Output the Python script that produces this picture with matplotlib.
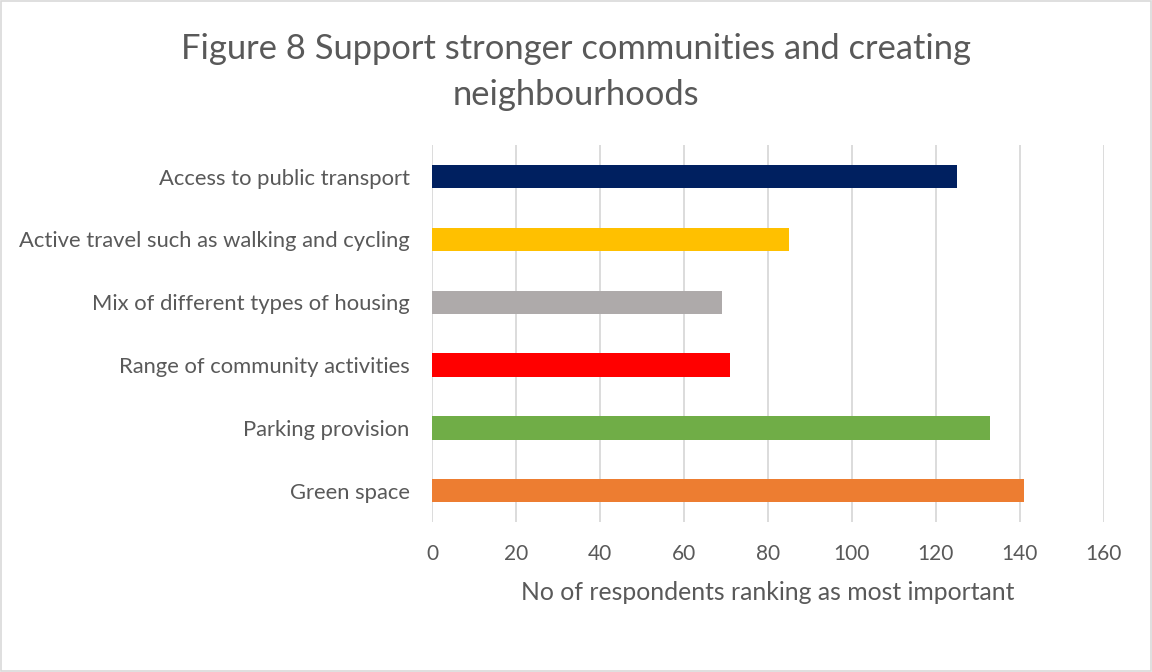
import matplotlib
matplotlib.use("Agg")
import matplotlib.pyplot as plt
from matplotlib.patches import Rectangle

categories = ["Access to public transport",
              "Active travel such as walking and cycling",
              "Mix of different types of housing",
              "Range of community activities",
              "Parking provision",
              "Green space"]
values = [125, 85, 69, 71, 133, 141]
colors = ["#002060", "#FFC000", "#AEAAAA", "#FF0000", "#70AD47", "#ED7D31"]
xticks = [0, 20, 40, 60, 80, 100, 120, 140, 160]

plt.rcParams['font.family'] = ['Lato', 'DejaVu Sans']
fig = plt.figure(figsize=(11.52, 6.72), dpi=100)
ax = fig.add_axes([0.375, 0.223, 0.583, 0.561])

y = list(range(len(categories)))
ax.barh(y, values, height=0.37, color=colors, zorder=3)
ax.set_ylim(len(categories) - 0.5, -0.5)
ax.set_xlim(0, 160)
ax.set_xticks(xticks)
ax.set_yticks(y)
ax.set_yticklabels(categories, fontsize=15.8, color="#595959")
ax.tick_params(axis='x', labelsize=15, labelcolor="#595959", length=0, pad=16)
ax.tick_params(axis='y', length=0, pad=16)
ax.grid(axis='x', color="#D9D9D9", linewidth=1.3, zorder=0)
for s in ax.spines.values():
    s.set_visible(False)
ax.set_xlabel("No of respondents ranking as most important", fontsize=17.8,
              color="#595959", labelpad=12)

fig.text(0.5, 0.893, "Figure 8 Support stronger communities and creating\nneighbourhoods",
         ha='center', va='center', fontsize=24.8, color="#595959", linespacing=1.55)
fig.patches.append(Rectangle((0.001, 0.001), 0.998, 0.997, transform=fig.transFigure,
                             fill=False, edgecolor="#D9D9D9", linewidth=1.2))
fig.savefig("out.png", dpi=100, facecolor="white")
